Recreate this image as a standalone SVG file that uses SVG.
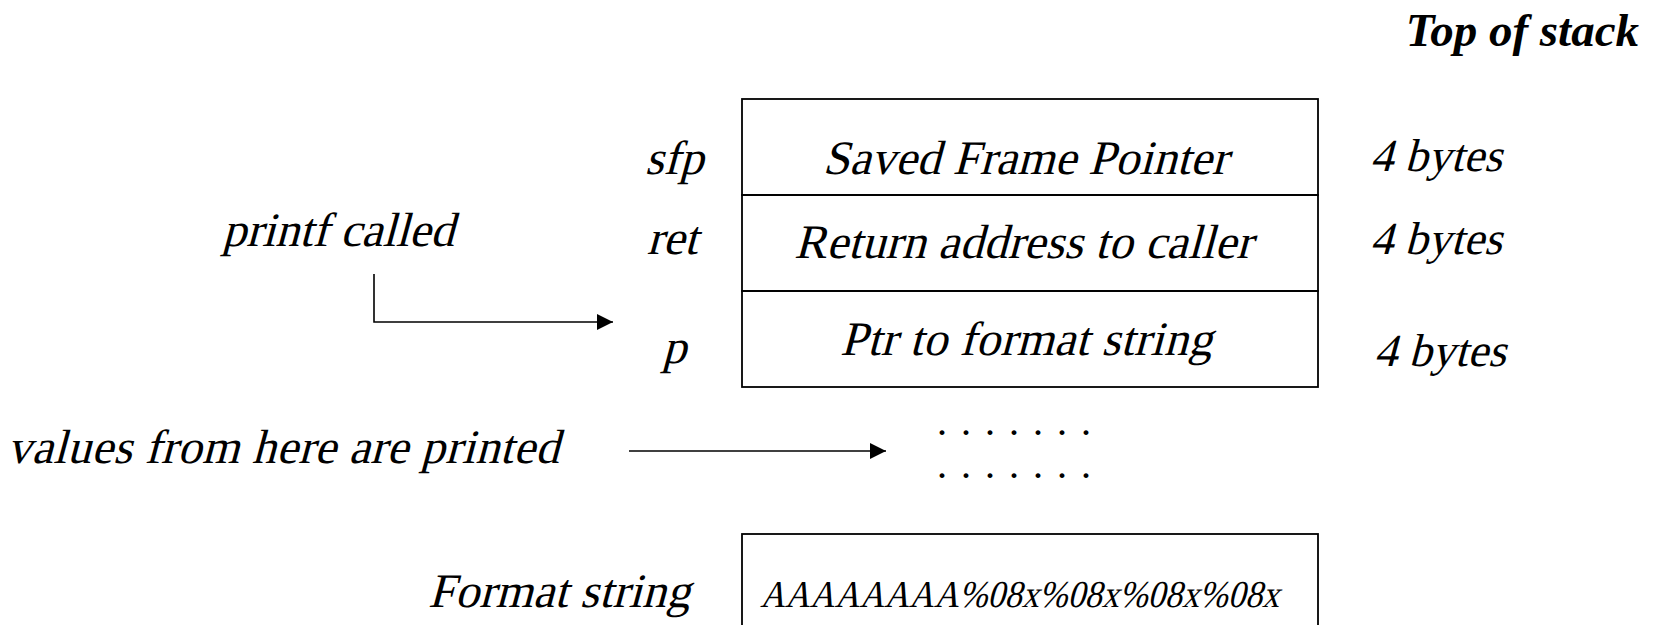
<svg xmlns="http://www.w3.org/2000/svg" width="1656" height="625" viewBox="0 0 1656 625">
  <style>
    text { font-family: "Liberation Serif", "Times New Roman", serif; fill: #000; }
    .lbl { font-size: 48px; }
    .size { font-size: 46px; }
    .title { font-size: 47px; font-weight: bold; font-style: italic; }
    .cell { fill: none; stroke: #000; stroke-width: 1.8; }
    .wire { fill: none; stroke: #000; stroke-width: 1.6; }
    .dots { font-size: 30px; font-weight: bold; }
  </style>
  <defs>
    <marker id="head" markerUnits="userSpaceOnUse" markerWidth="16" markerHeight="16" refX="16" refY="8" orient="auto">
      <path d="M0,0 L16,8 L0,16 z" fill="#000"/>
    </marker>
  </defs>

  <rect width="1656" height="625" fill="#fff"/>

  <text class="title" x="1639" y="46" text-anchor="end">Top of stack</text>

  <!-- stack frame; labels are slanted serif -->
  <g id="frame-sfp">
    <rect class="cell" x="742" y="99" width="576" height="96"/>
    <text class="lbl" transform="translate(1025,174) skewX(-15)" text-anchor="middle" textLength="405">Saved Frame Pointer</text>
    <text class="lbl" transform="translate(674,174) skewX(-15)" text-anchor="middle">sfp</text>
    <text class="size" transform="translate(1370,171) skewX(-15)">4 bytes</text>
  </g>
  <g id="frame-ret">
    <rect class="cell" x="742" y="195" width="576" height="96"/>
    <text class="lbl" transform="translate(1023,258) skewX(-15)" text-anchor="middle" textLength="458">Return address to caller</text>
    <text class="lbl" transform="translate(672,254) skewX(-15)" text-anchor="middle">ret</text>
    <text class="size" transform="translate(1370,254) skewX(-15)">4 bytes</text>
  </g>
  <g id="frame-p">
    <rect class="cell" x="742" y="291" width="576" height="96"/>
    <text class="lbl" transform="translate(1026,355) skewX(-15)" text-anchor="middle" textLength="372">Ptr to format string</text>
    <text class="lbl" transform="translate(674,363) skewX(-15)" text-anchor="middle">p</text>
    <text class="size" transform="translate(1374,366) skewX(-15)">4 bytes</text>
  </g>

  <g id="printf-called">
    <text class="lbl" transform="translate(222,246) skewX(-15)" textLength="232">printf called</text>
  </g>

  <g id="printed-values">
    <text class="lbl" transform="translate(7,463) skewX(-15)" textLength="552">values from here are printed</text>
  </g>

  <g id="more-stack">
    <text class="dots" x="942 966 990 1014 1038 1062 1086" y="435" text-anchor="middle">.......</text>
    <text class="dots" x="942 966 990 1014 1038 1062 1086" y="478" text-anchor="middle">.......</text>
  </g>

  <g id="format-string">
    <rect class="cell" x="742" y="534" width="576" height="110"/>
    <text class="lbl" transform="translate(690,607) skewX(-15)" text-anchor="end" textLength="262">Format string</text>
    <text font-size="38" transform="translate(760,607) skewX(-15)" textLength="519" lengthAdjust="spacingAndGlyphs">AAAAAAAA%08x%08x%08x%08x</text>
  </g>

  <g id="connectors">
    <path class="wire" d="M374,274 V322 H613" marker-end="url(#head)"/>
    <path class="wire" d="M629,451 H886" marker-end="url(#head)"/>
  </g>
</svg>
